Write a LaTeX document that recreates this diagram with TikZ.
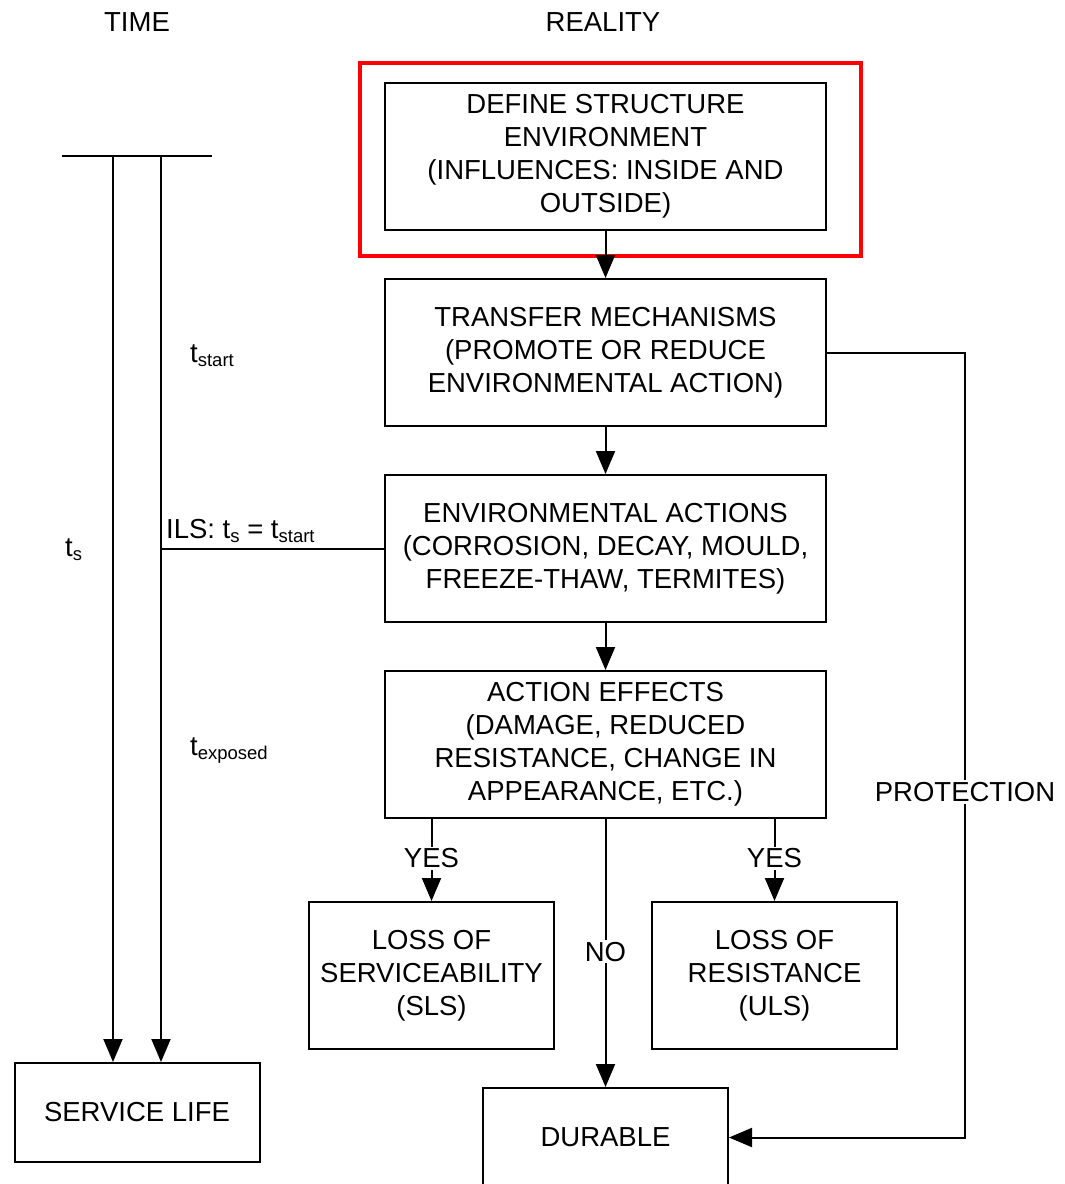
\documentclass[tikz,border=0pt]{standalone}
\usepackage{fontspec}
\setmainfont{Liberation Sans}
\usetikzlibrary{arrows.meta}
\newcommand\lowtxt[1]{\raisebox{-4pt}{\fontsize{18.5}{18.5}\selectfont #1}}
\begin{document}
\begin{tikzpicture}[x=1pt,y=-1pt,
  every node/.style={font=\fontsize{27.5}{33}\selectfont},
  box/.style={draw, line width=2pt, align=center, inner sep=0pt,
              minimum width=441pt, minimum height=147pt},
  smallbox/.style={box, minimum width=245pt},
  endbox/.style={box, minimum width=245pt, minimum height=99pt},
  link/.style={line width=2pt},
  arr/.style={line width=2pt, -{Triangle[length=23pt,width=19pt]}},
  lbl/.style={fill=white, inner sep=2pt}]
\useasboundingbox (0,0) rectangle (1065,1184);

% column headings
\node (time) at (137,22) {TIME};
\node (reality) at (603,22) {REALITY};

% main chain
\node[box] (define) at (605.5,156) {DEFINE STRUCTURE\\ENVIRONMENT\\(INFLUENCES: INSIDE AND\\OUTSIDE)};
\node[draw=red, line width=4pt, inner sep=0pt, minimum width=501pt, minimum height=193pt] (focus) at (610.5,159.5) {};
\node[box] (transfer) at (605.5,352.5) {TRANSFER MECHANISMS\\(PROMOTE OR REDUCE\\ENVIRONMENTAL ACTION)};
\node[box] (actions) at (605.5,548.5) {ENVIRONMENTAL ACTIONS\\(CORROSION, DECAY, MOULD,\\FREEZE-THAW, TERMITES)};
\node[box] (effects) at (605.5,744.5) {ACTION EFFECTS\\(DAMAGE, REDUCED\\RESISTANCE, CHANGE IN\\APPEARANCE, ETC.)};
\node[smallbox] (sls) at (431.5,975.5) {LOSS OF\\SERVICEABILITY\\(SLS)};
\node[smallbox] (uls) at (774.5,975.5) {LOSS OF\\RESISTANCE\\(ULS)};
\node[endbox] (durable) at (605.5,1137.5) {DURABLE};
\node[endbox] (life) at (137,1112.5) {SERVICE LIFE};

\draw[arr] (define) -- (transfer);
\draw[arr] (transfer) -- (actions);
\draw[arr] (actions) -- (effects);
\draw[arr] (sls.north |- effects.south) -- node[lbl, pos=0.48] {YES} (sls.north);
\draw[arr] (uls.north |- effects.south) -- node[lbl, pos=0.48] {YES} (uls.north);
\draw[arr] (effects) -- node[lbl, pos=0.495] {NO} (durable);

% protection bypass
\coordinate (pbend) at (965,352.5);
\draw[arr] (transfer.east) -- (pbend) -- node[lbl, pos=0.56] {PROTECTION} (pbend |- durable.east) -- (durable.east);

% time axis
\coordinate (barL) at (62,156);
\coordinate (barR) at (212,156);
\coordinate (tsTop) at (113,156);
\coordinate (tstartTop) at (161,156);
\draw[link] (barL) -- (barR);
\draw[arr] (tsTop) -- (tsTop |- life.north);
\draw[arr] (tstartTop) -- (tstartTop |- life.north);
\draw[link] (actions.west) -- (actions.west -| tstartTop);

\node[anchor=base west, inner sep=0pt] (tstart) at (190,362) {t\lowtxt{start}};
\node[anchor=base west, inner sep=0pt] (texposed) at (190,755) {t\lowtxt{exposed}};
\node[anchor=base west, inner sep=0pt] (ts) at (65,556) {t\lowtxt{s}};
\node[anchor=base west, inner sep=0pt] (ils) at (166,538) {ILS: t\lowtxt{s} = t\lowtxt{start}};
\end{tikzpicture}
\end{document}
